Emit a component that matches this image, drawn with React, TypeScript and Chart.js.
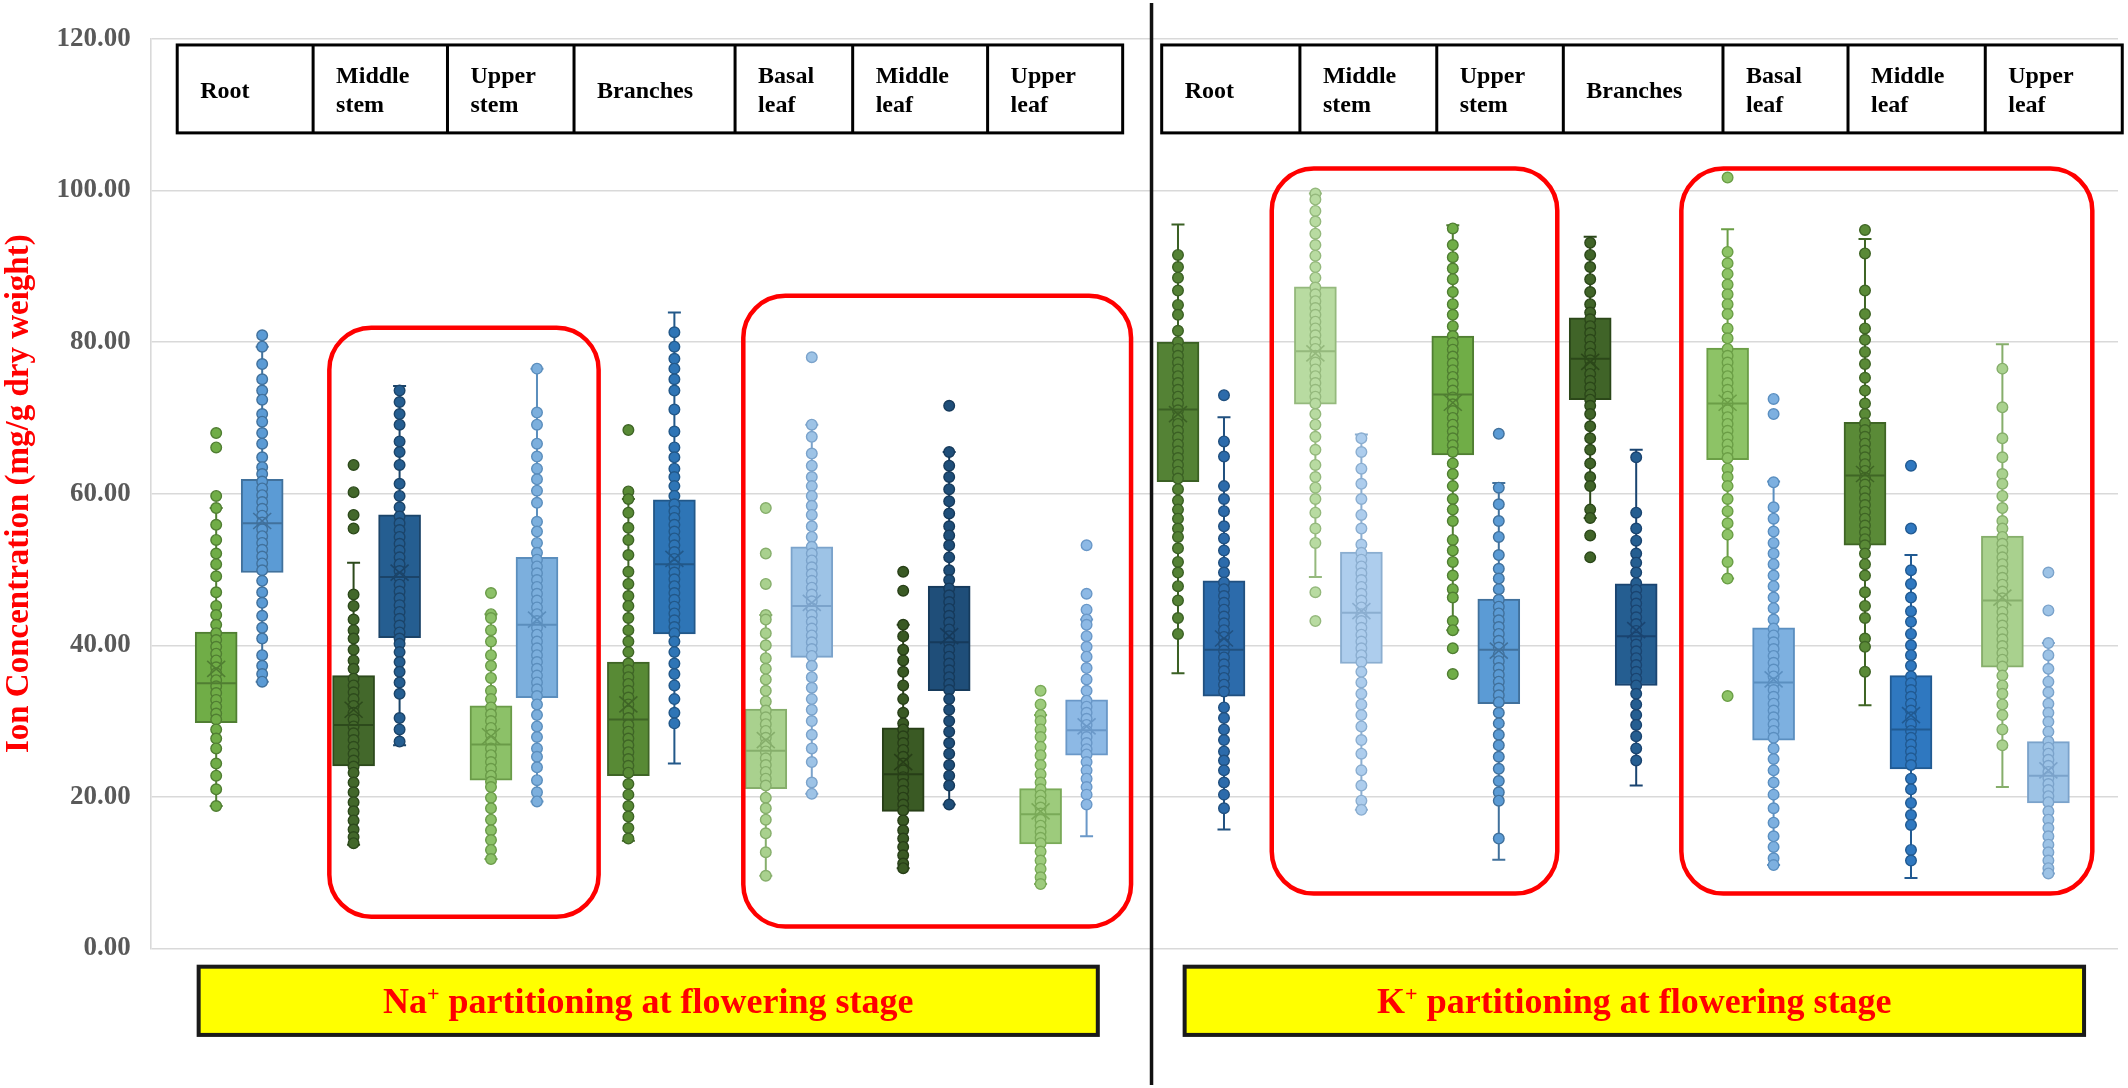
import React, { useEffect, useRef } from 'react';
import { Chart, registerables } from 'chart.js';

Chart.register(...registerables);

const FONT = '"Liberation Serif", "Times New Roman", Times, serif';

// ---------------- categories / labels ----------------
const organs = ['Root', 'Middle stem', 'Upper stem', 'Branches', 'Basal leaf', 'Middle leaf', 'Upper leaf'];
const ions = ['Na', 'K'];
const bannerRest = ' partitioning at flowering stage';
const yTitle = 'Ion Concentration (mg/g dry weight)';
const yTickValues = [0, 20, 40, 60, 80, 100, 120];

// ---------------- box statistics (14 groups: 7 Na organs then 7 K organs) ----------------
const greenQ1 = [29.8, 24.1, 22.2, 22.8, 21.1, 18.1, 13.8, 61.6, 71.8, 65.1, 72.4, 64.5, 53.2, 37.1];
const greenQ3 = [41.75, 36.0, 32.0, 37.8, 31.6, 29.1, 21.1, 80.0, 87.3, 80.8, 83.2, 79.2, 69.4, 54.4];
const greenMedian = [35.0, 29.5, 26.9, 30.2, 26.1, 23.0, 17.7, 71.1, 78.8, 73.1, 77.8, 71.9, 62.4, 45.9];
const greenMean = [36.9, 31.5, 28.0, 32.2, 27.5, 24.6, 18.1, 70.5, 78.5, 72.0, 77.4, 72.0, 62.6, 46.3];
const greenLow = [18.8, 13.7, 11.8, 14.2, 9.6, 10.6, 8.5, 36.3, 49.0, 42.0, 56.8, 48.8, 32.1, 21.3];
const greenHigh = [58.1, 50.9, 44.1, 59.3, 44.0, 42.7, 30.8, 95.5, 99.6, 95.4, 93.9, 94.9, 93.6, 79.7];

const blueQ1 = [49.6, 41.0, 33.1, 41.5, 38.4, 34.0, 25.5, 33.3, 37.6, 32.3, 34.7, 27.5, 23.7, 19.2];
const blueQ3 = [61.9, 57.2, 51.6, 59.2, 53.0, 47.8, 32.8, 48.5, 52.3, 46.1, 48.1, 42.3, 36.0, 27.3];
const blueMedian = [56.1, 49.0, 42.7, 50.7, 45.2, 40.4, 28.8, 39.4, 44.3, 39.4, 41.2, 35.1, 28.9, 22.8];
const blueMean = [56.4, 49.6, 43.4, 51.4, 45.6, 41.2, 29.3, 40.9, 44.5, 39.3, 42.0, 35.5, 30.8, 23.5];
const blueLow = [35.2, 26.8, 19.4, 24.4, 20.4, 19.0, 14.8, 15.7, 18.3, 11.7, 21.5, 11.0, 9.3, 9.9];
const blueHigh = [79.4, 74.2, 76.5, 83.9, 69.1, 65.5, 43.4, 70.1, 67.8, 61.4, 65.8, 61.6, 51.9, 40.3];

// ---------------- individual points ----------------
const naRootG = [68.0, 66.1, 59.7, 58.1, 55.9, 53.9, 52.1, 50.7, 49.1, 47.0, 45.2, 44.0, 42.7, 41.6, 40.7, 39.8, 38.9, 38.0, 37.1, 36.3, 35.4, 34.6, 33.7, 32.8, 31.9, 31.0, 30.2, 28.9, 27.7, 26.4, 24.4, 22.8, 21.0, 18.8];
const naRootB = [80.9, 79.4, 77.1, 75.1, 73.6, 72.4, 70.5, 69.5, 68.0, 66.6, 64.8, 63.5, 62.6, 61.6, 60.7, 59.8, 58.9, 58.0, 57.1, 56.2, 55.3, 54.4, 53.5, 52.6, 51.7, 50.8, 49.9, 48.5, 47.0, 45.6, 43.9, 42.3, 40.9, 38.7, 37.3, 36.2, 35.2];
const naMidStemG = [63.8, 60.2, 57.2, 55.4, 46.7, 45.2, 43.4, 42.0, 40.9, 39.4, 38.0, 36.9, 35.6, 34.7, 33.8, 32.9, 32.0, 31.1, 30.2, 29.3, 28.4, 27.5, 26.6, 25.7, 24.8, 24.0, 23.2, 21.9, 20.6, 19.3, 18.1, 16.9, 15.7, 14.7, 13.9];
const naMidStemB = [73.6, 72.1, 70.5, 69.1, 66.9, 65.5, 63.8, 61.3, 59.7, 58.2, 57.0, 56.1, 55.2, 54.3, 53.4, 52.5, 51.6, 50.7, 49.8, 48.9, 48.0, 47.1, 46.2, 45.3, 44.4, 43.5, 42.6, 41.7, 40.9, 40.2, 39.1, 37.8, 36.5, 35.1, 33.6, 30.4, 28.9, 27.3];
const naUpStemG = [46.9, 44.1, 43.6, 42.0, 40.5, 38.7, 37.3, 35.7, 34.0, 32.9, 31.8, 30.9, 30.0, 29.1, 28.2, 27.3, 26.4, 25.5, 24.6, 23.7, 22.8, 22.0, 21.3, 19.9, 18.5, 17.0, 15.6, 14.3, 13.0, 11.8];
const naUpStemB = [76.5, 70.7, 69.1, 66.6, 64.9, 63.3, 61.9, 60.4, 58.8, 56.3, 55.0, 53.5, 52.2, 51.3, 50.4, 49.5, 48.6, 47.7, 46.8, 45.9, 45.0, 44.1, 43.2, 42.3, 41.4, 40.5, 39.6, 38.7, 37.8, 36.9, 36.0, 35.1, 34.2, 33.3, 32.2, 30.8, 29.3, 27.9, 26.4, 25.3, 23.9, 22.2, 20.6, 19.4];
const naBranchG = [68.4, 60.3, 59.3, 57.5, 55.5, 53.9, 51.9, 49.7, 48.1, 46.5, 45.2, 43.6, 42.0, 40.5, 39.1, 37.6, 36.7, 35.8, 34.9, 34.0, 33.1, 32.2, 31.3, 30.4, 29.5, 28.6, 27.7, 26.8, 25.9, 25.0, 24.1, 23.2, 21.7, 20.3, 18.8, 17.4, 15.9, 14.5];
const naBranchB = [81.3, 79.4, 77.8, 76.5, 75.1, 73.6, 71.1, 68.2, 66.1, 64.8, 63.3, 62.2, 61.0, 59.7, 58.6, 57.7, 56.8, 55.9, 55.0, 54.1, 53.2, 52.3, 51.4, 50.5, 49.6, 48.7, 47.8, 46.9, 46.0, 45.1, 44.2, 43.3, 42.4, 41.6, 40.5, 39.1, 37.6, 36.2, 34.7, 32.9, 31.1, 29.7];
const naBasalG = [58.1, 52.1, 48.1, 44.0, 43.4, 41.6, 40.0, 38.3, 36.9, 35.5, 34.0, 32.6, 31.4, 30.5, 29.6, 28.7, 27.8, 26.9, 26.0, 25.1, 24.2, 23.3, 22.4, 21.5, 19.9, 18.5, 17.0, 15.2, 12.7, 9.6];
const naBasalB = [78.0, 69.1, 67.5, 65.3, 63.7, 62.2, 61.0, 59.7, 58.4, 57.2, 55.7, 54.3, 53.0, 52.1, 51.2, 50.3, 49.4, 48.5, 47.6, 46.7, 45.8, 44.9, 44.0, 43.1, 42.2, 41.3, 40.4, 39.5, 38.6, 37.3, 35.8, 34.4, 32.9, 31.5, 30.0, 28.2, 26.4, 24.6, 21.9, 20.4];
const naMidLeafG = [49.7, 47.2, 42.7, 41.2, 39.4, 38.0, 36.5, 34.7, 32.9, 31.1, 29.7, 28.9, 28.0, 27.1, 26.2, 25.3, 24.4, 23.5, 22.6, 21.7, 20.8, 19.9, 19.0, 18.2, 16.9, 15.6, 14.5, 13.4, 12.3, 11.2, 10.6];
const naMidLeafB = [71.6, 65.5, 63.7, 62.2, 60.6, 59.0, 57.4, 55.7, 54.5, 53.2, 51.6, 49.9, 48.6, 47.5, 46.6, 45.7, 44.8, 43.9, 43.0, 42.1, 41.2, 40.3, 39.4, 38.5, 37.6, 36.7, 35.8, 34.9, 34.1, 32.9, 31.5, 30.0, 28.6, 27.1, 25.7, 24.2, 22.8, 21.5, 19.0];
const naUpLeafG = [34.0, 32.2, 30.8, 30.0, 28.9, 27.9, 26.6, 25.5, 24.2, 23.0, 21.9, 21.0, 20.2, 19.4, 18.6, 17.8, 17.0, 16.2, 15.4, 14.6, 13.9, 12.8, 11.6, 10.5, 9.4, 8.5];
const naUpLeafB = [53.2, 46.8, 44.7, 43.4, 42.7, 41.2, 39.8, 38.5, 37.0, 35.5, 34.0, 32.7, 31.9, 31.1, 30.3, 29.5, 28.7, 27.9, 27.1, 26.3, 25.6, 24.6, 23.5, 22.4, 21.3, 20.3, 19.0];

const kRootG = [91.5, 89.9, 88.5, 86.8, 84.9, 83.6, 81.5, 80.0, 79.1, 78.2, 77.3, 76.4, 75.5, 74.6, 73.7, 72.8, 71.9, 71.0, 70.1, 69.2, 68.3, 67.4, 66.5, 65.6, 64.7, 63.8, 62.9, 62.0, 60.6, 59.1, 57.9, 56.7, 55.4, 54.3, 52.8, 51.0, 49.6, 47.8, 45.9, 43.6, 41.5];
const kRootB = [73.0, 66.9, 64.9, 61.0, 59.3, 57.7, 55.7, 54.1, 52.5, 50.9, 49.6, 48.3, 47.4, 46.5, 45.6, 44.7, 43.8, 42.9, 42.0, 41.1, 40.2, 39.3, 38.4, 37.5, 36.6, 35.7, 34.8, 33.9, 31.8, 30.4, 28.9, 27.5, 26.0, 24.8, 23.5, 21.9, 20.3, 18.5];
const kMidStemG = [99.6, 98.8, 97.3, 95.9, 94.3, 92.8, 91.4, 89.9, 88.5, 87.2, 86.3, 85.4, 84.5, 83.6, 82.7, 81.8, 80.9, 80.0, 79.1, 78.2, 77.3, 76.4, 75.5, 74.6, 73.7, 72.8, 71.9, 70.5, 69.1, 67.5, 65.8, 63.8, 62.2, 60.8, 59.3, 57.5, 55.4, 53.5, 47.0, 43.2];
const kMidStemB = [67.3, 65.5, 63.3, 61.3, 59.3, 57.2, 55.4, 53.3, 52.2, 51.3, 50.4, 49.5, 48.6, 47.7, 46.8, 45.9, 45.0, 44.1, 43.2, 42.3, 41.4, 40.5, 39.6, 38.7, 37.8, 36.5, 35.1, 33.6, 32.2, 30.8, 29.3, 27.5, 25.7, 23.5, 21.5, 19.5, 18.3];
const kUpStemG = [95.0, 92.8, 91.2, 89.7, 88.3, 86.6, 85.0, 83.6, 82.1, 80.8, 79.9, 79.0, 78.1, 77.2, 76.3, 75.4, 74.5, 73.6, 72.7, 71.8, 70.9, 70.0, 69.1, 68.2, 67.3, 66.4, 65.5, 64.0, 62.6, 61.0, 59.3, 57.9, 56.4, 53.9, 52.5, 51.0, 49.2, 47.4, 46.3, 43.2, 42.0, 39.6, 36.2];
const kUpStemB = [67.9, 60.8, 58.6, 56.4, 54.3, 51.9, 50.1, 48.8, 47.4, 46.0, 45.1, 44.2, 43.3, 42.4, 41.5, 40.6, 39.7, 38.8, 37.9, 37.0, 36.1, 35.2, 34.3, 33.4, 32.5, 31.1, 29.7, 28.2, 26.8, 25.3, 23.7, 22.1, 20.6, 19.5, 14.5];
const kBranchG = [93.1, 91.5, 89.9, 88.3, 86.6, 85.0, 83.9, 83.0, 82.1, 81.2, 80.3, 79.4, 78.5, 77.6, 76.7, 75.8, 74.9, 74.0, 73.1, 72.4, 71.6, 70.5, 68.9, 67.3, 65.8, 64.0, 62.2, 61.0, 57.9, 56.8, 54.5, 51.6];
const kBranchB = [64.8, 57.5, 55.4, 53.8, 52.1, 50.9, 49.6, 48.2, 47.3, 46.4, 45.5, 44.6, 43.7, 42.8, 41.9, 41.0, 40.1, 39.2, 38.3, 37.4, 36.5, 35.6, 34.7, 33.6, 32.2, 30.8, 29.5, 28.0, 26.4, 24.8];
const kBasalG = [101.7, 91.9, 90.4, 89.0, 87.6, 86.3, 85.0, 83.7, 81.8, 80.5, 79.1, 78.2, 77.3, 76.4, 75.5, 74.6, 73.7, 72.8, 71.9, 71.0, 70.1, 69.2, 68.3, 67.4, 66.5, 65.6, 64.7, 63.3, 62.2, 61.0, 59.3, 57.7, 56.1, 54.6, 51.0, 48.8, 33.3];
const kBasalB = [72.5, 70.5, 61.5, 58.2, 56.7, 55.0, 53.5, 52.1, 50.7, 49.2, 47.8, 46.3, 44.9, 43.4, 42.2, 41.3, 40.4, 39.5, 38.6, 37.7, 36.8, 35.9, 35.0, 34.1, 33.2, 32.3, 31.4, 30.5, 29.6, 28.7, 27.8, 26.4, 25.0, 23.5, 21.9, 20.3, 18.5, 16.6, 14.8, 13.4, 11.9, 11.0];
const kMidLeafG = [94.8, 91.7, 86.8, 83.7, 81.8, 80.3, 78.7, 77.1, 75.3, 73.6, 71.9, 70.5, 69.3, 68.4, 67.5, 66.6, 65.7, 64.8, 63.9, 63.0, 62.1, 61.2, 60.3, 59.4, 58.5, 57.6, 56.7, 55.8, 54.9, 54.0, 53.2, 52.1, 50.7, 49.2, 47.0, 45.2, 43.6, 40.9, 39.8, 36.5];
const kMidLeafB = [63.7, 55.4, 49.9, 48.1, 46.3, 44.5, 43.1, 41.5, 40.0, 38.7, 37.3, 35.9, 35.0, 34.1, 33.2, 32.3, 31.4, 30.5, 29.6, 28.7, 27.8, 26.9, 26.0, 25.1, 24.2, 22.4, 21.0, 19.2, 17.6, 16.3, 13.0, 11.6];
const kUpLeafG = [76.5, 71.4, 67.3, 64.8, 62.6, 61.3, 59.7, 58.1, 56.4, 55.4, 54.3, 53.4, 52.5, 51.6, 50.7, 49.8, 48.9, 48.0, 47.1, 46.2, 45.3, 44.4, 43.5, 42.6, 41.7, 40.8, 39.9, 39.0, 38.1, 37.2, 36.0, 34.7, 33.6, 32.2, 30.8, 28.9, 26.8];
const kUpLeafB = [49.6, 44.6, 40.3, 38.7, 36.9, 35.2, 33.8, 32.3, 31.1, 29.9, 28.6, 27.3, 26.5, 25.7, 24.9, 24.1, 23.3, 22.5, 21.7, 20.9, 20.1, 19.3, 18.1, 17.0, 15.9, 14.8, 13.7, 12.7, 11.6, 10.6, 9.9];

const greenPoints = [naRootG, naMidStemG, naUpStemG, naBranchG, naBasalG, naMidLeafG, naUpLeafG,
  kRootG, kMidStemG, kUpStemG, kBranchG, kBasalG, kMidLeafG, kUpLeafG];
const bluePoints = [naRootB, naMidStemB, naUpStemB, naBranchB, naBasalB, naMidLeafB, naUpLeafB,
  kRootB, kMidStemB, kUpStemB, kBranchB, kBasalB, kMidLeafB, kUpLeafB];

// ---------------- styles ----------------
const greenFill = ['#70AD47', '#43682B', '#8CC168', '#588A35', '#A9D18E', '#3A5A24', '#9DCB7C',
  '#548235', '#B8DBA1', '#70AD47', '#406428', '#8DC366', '#5A8A37', '#A9D18E'];
const greenLine = ['#507E32', '#2D4A1C', '#6A9B48', '#3F6526', '#86AE6B', '#273E17', '#7AAA58',
  '#3B6024', '#95B97D', '#507E32', '#2B4719', '#6B9E46', '#3F6525', '#86AE6B'];
const blueFill = ['#5B9BD5', '#255E91', '#7CAFDD', '#2E75B6', '#9DC3E6', '#1F4E79', '#8DB9E5',
  '#2C6BAB', '#ADCDED', '#5B9BD5', '#255E91', '#7DB0E0', '#2F78C0', '#9DC3E6'];
const blueLine = ['#41719C', '#1B4469', '#5B8EBD', '#225889', '#7BA3CB', '#163A5B', '#6A98C8',
  '#21507F', '#8BAED0', '#41719C', '#1A4470', '#5B8FC0', '#215A92', '#7BA3CB'];

// layout helpers in axis units
const PAIR_OFFSET = 0.1674;
const X_MIN = -0.644;
const X_MAX = 13.674;
const tableCols = [
  [-0.451, 0.538, 1.516, 2.437, 3.609, 4.465, 5.447, 6.430],
  [6.714, 7.720, 8.716, 9.637, 10.799, 11.709, 12.708, 13.705],
];
const tableTopVal = 119.2;
const tableBottomVal = 107.6;
const redBoxes = [
  [0.656, 2.616, 81.9, 4.2],
  [3.669, 6.491, 86.1, 2.9],
  [7.515, 9.593, 102.9, 7.24],
  [10.496, 13.487, 102.9, 7.24],
];
const bannerX = [[-0.295, 6.249], [6.881, 13.427]];
const bannerY = [-2.4, -11.4];
const dividerX = 6.64;

const groupIdx = organs.concat(organs).map((_, i) => i);

const extrasPlugin = {
  id: 'boxExtras',
  beforeDatasetsDraw(chart: any) {
    const { ctx, scales } = chart;
    const x = scales.x, y = scales.y;
    ctx.save();
    ctx.lineWidth = 2;
    const drawWhisker = (pos: number, q1: number, q3: number, lo: number, hi: number, col: string) => {
      const px = x.getPixelForValue(pos);
      ctx.strokeStyle = col;
      ctx.beginPath();
      ctx.moveTo(px, y.getPixelForValue(q3));
      ctx.lineTo(px, y.getPixelForValue(hi));
      ctx.moveTo(px - 6.5, y.getPixelForValue(hi));
      ctx.lineTo(px + 6.5, y.getPixelForValue(hi));
      ctx.moveTo(px, y.getPixelForValue(q1));
      ctx.lineTo(px, y.getPixelForValue(lo));
      ctx.moveTo(px - 6.5, y.getPixelForValue(lo));
      ctx.lineTo(px + 6.5, y.getPixelForValue(lo));
      ctx.stroke();
    };
    groupIdx.forEach((i) => {
      drawWhisker(i - PAIR_OFFSET, greenQ1[i], greenQ3[i], greenLow[i], greenHigh[i], greenLine[i]);
      drawWhisker(i + PAIR_OFFSET, blueQ1[i], blueQ3[i], blueLow[i], blueHigh[i], blueLine[i]);
    });
    ctx.restore();
  },
  afterDatasetsDraw(chart: any) {
    const { ctx, scales } = chart;
    const x = scales.x, y = scales.y;
    ctx.save();
    const drawMid = (pos: number, med: number, mean: number, col: string) => {
      const px = x.getPixelForValue(pos);
      const half = 20;
      ctx.strokeStyle = col;
      ctx.lineWidth = 2;
      ctx.beginPath();
      ctx.moveTo(px - half, y.getPixelForValue(med));
      ctx.lineTo(px + half, y.getPixelForValue(med));
      ctx.stroke();
      const my = y.getPixelForValue(mean);
      ctx.lineWidth = 1.6;
      ctx.beginPath();
      ctx.moveTo(px - 9, my - 8);
      ctx.lineTo(px + 9, my + 8);
      ctx.moveTo(px + 9, my - 8);
      ctx.lineTo(px - 9, my + 8);
      ctx.stroke();
    };
    groupIdx.forEach((i) => {
      drawMid(i - PAIR_OFFSET, greenMedian[i], greenMean[i], greenLine[i]);
      drawMid(i + PAIR_OFFSET, blueMedian[i], blueMean[i], blueLine[i]);
    });
    ctx.restore();
  },
  afterDraw(chart: any) {
    const { ctx, scales } = chart;
    const x = scales.x, y = scales.y;
    ctx.save();

    // header tables
    const top = y.getPixelForValue(tableTopVal);
    const bottom = y.getPixelForValue(tableBottomVal);
    tableCols.forEach((cols) => {
      const left = x.getPixelForValue(cols[0]);
      const right = x.getPixelForValue(cols[cols.length - 1]);
      ctx.fillStyle = '#ffffff';
      ctx.fillRect(left, top, right - left, bottom - top);
      ctx.strokeStyle = '#000000';
      ctx.lineWidth = 3;
      ctx.strokeRect(left, top, right - left, bottom - top);
      ctx.beginPath();
      cols.slice(1, -1).forEach((c) => {
        const px = x.getPixelForValue(c);
        ctx.moveTo(px, top);
        ctx.lineTo(px, bottom);
      });
      ctx.stroke();
      ctx.fillStyle = '#000000';
      ctx.font = `bold 24px ${FONT}`;
      ctx.textAlign = 'left';
      ctx.textBaseline = 'alphabetic';
      organs.forEach((name, k) => {
        const tx = x.getPixelForValue(cols[k]) + 23;
        const lines = name.split(' ');
        if (lines.length === 1) {
          ctx.fillText(lines[0], tx, top + 53);
        } else {
          ctx.fillText(lines[0], tx, top + 38.5);
          ctx.fillText(lines[1], tx, top + 67);
        }
      });
    });

    // red highlight frames
    ctx.strokeStyle = '#FF0000';
    ctx.lineWidth = 4.5;
    redBoxes.forEach(([x0, x1, y0, y1]) => {
      const l = x.getPixelForValue(x0);
      const r = x.getPixelForValue(x1);
      const t = y.getPixelForValue(y0);
      const b = y.getPixelForValue(y1);
      ctx.beginPath();
      ctx.roundRect(l, t, r - l, b - t, 42);
      ctx.stroke();
    });

    // yellow banners
    bannerX.forEach(([x0, x1], k) => {
      const l = x.getPixelForValue(x0);
      const r = x.getPixelForValue(x1);
      const t = y.getPixelForValue(bannerY[0]);
      const b = y.getPixelForValue(bannerY[1]);
      ctx.fillStyle = '#FFFF00';
      ctx.fillRect(l, t, r - l, b - t);
      ctx.strokeStyle = '#1a1a1a';
      ctx.lineWidth = 4;
      ctx.strokeRect(l, t, r - l, b - t);
      const main = `bold 36px ${FONT}`;
      const sup = `bold 22px ${FONT}`;
      ctx.font = main;
      const w1 = ctx.measureText(ions[k]).width;
      const w3 = ctx.measureText(bannerRest).width;
      ctx.font = sup;
      const w2 = ctx.measureText('+').width;
      const cx = (l + r) / 2;
      const base = (t + b) / 2 + 12;
      let sx = cx - (w1 + w2 + w3) / 2;
      ctx.fillStyle = '#FF0000';
      ctx.textAlign = 'left';
      ctx.font = main;
      ctx.fillText(ions[k], sx, base);
      sx += w1;
      ctx.font = sup;
      ctx.fillText('+', sx, base - 12);
      sx += w2;
      ctx.font = main;
      ctx.fillText(bannerRest, sx, base);
    });

    // vertical divider
    const dx = x.getPixelForValue(dividerX);
    ctx.strokeStyle = '#111111';
    ctx.lineWidth = 3.5;
    ctx.beginPath();
    ctx.moveTo(dx, 3);
    ctx.lineTo(dx, chart.height - 3);
    ctx.stroke();

    ctx.restore();
  },
};

export default function App() {
  const canvasRef = useRef<HTMLCanvasElement | null>(null);

  useEffect(() => {
    const canvas = canvasRef.current;
    if (!canvas) return;

    const barGreen = {
      type: 'bar' as const,
      order: 3,
      data: groupIdx.map((i) => ({ x: i - PAIR_OFFSET, y: [greenQ1[i], greenQ3[i]] })),
      backgroundColor: greenFill,
      borderColor: greenLine,
      borderWidth: 2,
      borderSkipped: false,
      grouped: false,
      barPercentage: 1,
      categoryPercentage: 1,
      maxBarThickness: 42,
    };
    const barBlue = {
      type: 'bar' as const,
      order: 3,
      data: groupIdx.map((i) => ({ x: i + PAIR_OFFSET, y: [blueQ1[i], blueQ3[i]] })),
      backgroundColor: blueFill,
      borderColor: blueLine,
      borderWidth: 2,
      borderSkipped: false,
      grouped: false,
      barPercentage: 1,
      categoryPercentage: 1,
      maxBarThickness: 42,
    };
    const scatterSets: any[] = [];
    groupIdx.forEach((i) => {
      scatterSets.push({
        type: 'scatter' as const,
        order: 1,
        data: greenPoints[i].map((v) => ({ x: i - PAIR_OFFSET, y: v })),
        pointRadius: 5.3,
        pointBackgroundColor: greenFill[i],
        pointBorderColor: greenLine[i],
        pointBorderWidth: 1.4,
        showLine: false,
      });
      scatterSets.push({
        type: 'scatter' as const,
        order: 1,
        data: bluePoints[i].map((v) => ({ x: i + PAIR_OFFSET, y: v })),
        pointRadius: 5.3,
        pointBackgroundColor: blueFill[i],
        pointBorderColor: blueLine[i],
        pointBorderWidth: 1.4,
        showLine: false,
      });
    });

    const chart = new Chart(canvas, {
      type: 'bar',
      data: { datasets: [barGreen, barBlue, ...scatterSets] as any },
      options: {
        animation: false,
        responsive: false,
        devicePixelRatio: 1,
        layout: { padding: { left: 0, top: 38.9, right: 10, bottom: 139.5 } },
        plugins: {
          legend: { display: false },
          tooltip: { enabled: false },
        },
        scales: {
          x: {
            type: 'linear',
            min: X_MIN,
            max: X_MAX,
            offset: false,
            display: false,
            grid: { offset: false },
          },
          y: {
            type: 'linear',
            min: 0,
            max: 120,
            afterFit: (scale: any) => {
              scale.width = 150.7;
            },
            afterBuildTicks: (scale: any) => {
              scale.ticks = yTickValues.map((v) => ({ value: v }));
            },
            ticks: {
              padding: 20,
              color: '#595959',
              font: { family: FONT, size: 27, weight: 'bold' },
              callback: (v: any) => Number(v).toFixed(2),
            },
            grid: { color: '#d9d9d9', lineWidth: 1.6, drawTicks: false },
            border: { display: true, color: '#d9d9d9', width: 1.6 },
            title: {
              display: true,
              text: yTitle,
              color: '#FF0000',
              font: { family: FONT, size: 33, weight: 'bold' },
              padding: 0,
            },
          },
        },
      },
      plugins: [extrasPlugin],
    });

    return () => {
      chart.destroy();
    };
  }, []);

  return (
    <div style={{ position: 'fixed', left: 0, top: 0, width: 2128, height: 1088, background: '#ffffff' }}>
      <canvas ref={canvasRef} width={2128} height={1088} style={{ display: 'block' }} />
    </div>
  );
}
